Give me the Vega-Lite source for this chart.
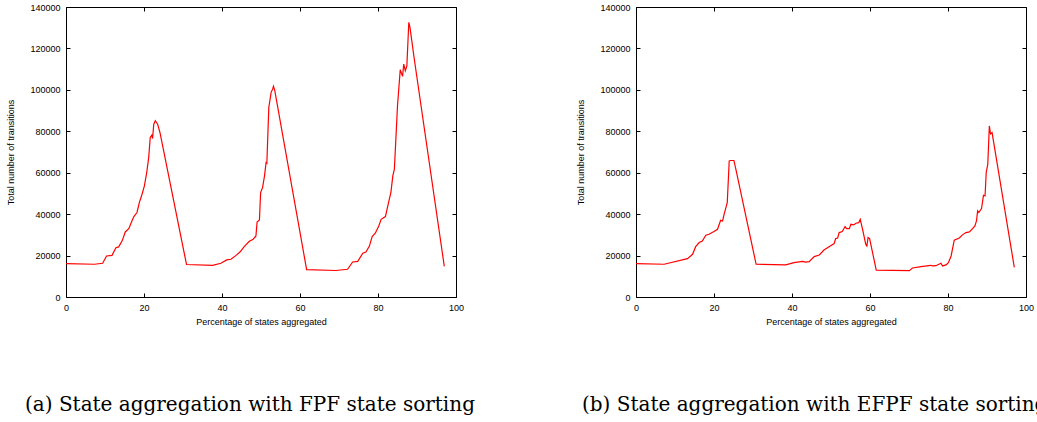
{
  "$schema": "https://vega.github.io/schema/vega-lite/v6.json",
  "padding": {"left": 6, "top": 2, "right": 0, "bottom": 0},
  "background": "white",
  "datasets": {
    "fpf": [
      {"x": 0, "y": 16100}, {"x": 7.3, "y": 15800}, {"x": 9.4, "y": 16300}, {"x": 10.4, "y": 19800},
      {"x": 11.8, "y": 20100}, {"x": 12.8, "y": 23800}, {"x": 13.5, "y": 24200}, {"x": 14.4, "y": 27100},
      {"x": 15.2, "y": 31400}, {"x": 16.1, "y": 33000}, {"x": 16.9, "y": 36700}, {"x": 17.4, "y": 38800},
      {"x": 18.2, "y": 40800}, {"x": 18.8, "y": 45600}, {"x": 19.5, "y": 49600}, {"x": 20.1, "y": 53600},
      {"x": 20.7, "y": 60100}, {"x": 21.2, "y": 67300}, {"x": 21.6, "y": 77000}, {"x": 22.0, "y": 78100},
      {"x": 22.2, "y": 76500}, {"x": 22.5, "y": 83400}, {"x": 22.9, "y": 85100}, {"x": 23.5, "y": 83400},
      {"x": 24.1, "y": 79400}, {"x": 30.9, "y": 15700}, {"x": 37.6, "y": 15300}, {"x": 39.7, "y": 16300},
      {"x": 41.2, "y": 17900}, {"x": 42.3, "y": 18200}, {"x": 43.6, "y": 20100}, {"x": 44.6, "y": 21700},
      {"x": 45.7, "y": 24300}, {"x": 47.0, "y": 26900}, {"x": 48.0, "y": 27900}, {"x": 48.7, "y": 29500},
      {"x": 49.0, "y": 36200}, {"x": 49.6, "y": 37200}, {"x": 49.9, "y": 50400}, {"x": 50.4, "y": 52800},
      {"x": 50.9, "y": 58500}, {"x": 51.3, "y": 64900}, {"x": 51.5, "y": 64600}, {"x": 52.0, "y": 91500},
      {"x": 52.6, "y": 98800}, {"x": 53.0, "y": 100400}, {"x": 53.2, "y": 101700}, {"x": 53.5, "y": 100000},
      {"x": 61.7, "y": 13200}, {"x": 69.2, "y": 12800}, {"x": 72.2, "y": 13400}, {"x": 73.5, "y": 16900},
      {"x": 74.8, "y": 17200}, {"x": 76.1, "y": 21100}, {"x": 76.9, "y": 21700}, {"x": 77.8, "y": 24600},
      {"x": 78.5, "y": 29200}, {"x": 79.3, "y": 30800}, {"x": 80.2, "y": 34300}, {"x": 80.8, "y": 37500},
      {"x": 81.9, "y": 38800}, {"x": 82.7, "y": 45600}, {"x": 83.3, "y": 50400}, {"x": 83.8, "y": 58500},
      {"x": 84.2, "y": 61700}, {"x": 85.0, "y": 92300}, {"x": 85.7, "y": 109700}, {"x": 86.3, "y": 106500},
      {"x": 86.6, "y": 112400}, {"x": 87.0, "y": 109200}, {"x": 87.4, "y": 111600}, {"x": 87.9, "y": 132600},
      {"x": 88.2, "y": 130200}, {"x": 89.3, "y": 114900}, {"x": 97.0, "y": 14800}
    ],
    "efpf": [
      {"x": 0, "y": 16100}, {"x": 7.2, "y": 15800}, {"x": 13.2, "y": 18500}, {"x": 14.5, "y": 20600},
      {"x": 15.3, "y": 24300}, {"x": 16.2, "y": 26300}, {"x": 17.0, "y": 27000}, {"x": 17.9, "y": 29800},
      {"x": 18.7, "y": 30300}, {"x": 20.0, "y": 31600}, {"x": 20.9, "y": 32700}, {"x": 21.7, "y": 37000},
      {"x": 22.2, "y": 36700}, {"x": 22.6, "y": 40000}, {"x": 23.4, "y": 45600}, {"x": 23.9, "y": 65700},
      {"x": 24.3, "y": 65900}, {"x": 25.1, "y": 65900}, {"x": 25.6, "y": 61700}, {"x": 30.8, "y": 15800},
      {"x": 38.4, "y": 15500}, {"x": 40.5, "y": 16600}, {"x": 42.7, "y": 17200}, {"x": 43.5, "y": 16800},
      {"x": 44.4, "y": 17100}, {"x": 45.7, "y": 19500}, {"x": 47.0, "y": 20300}, {"x": 48.2, "y": 22700},
      {"x": 49.5, "y": 24300}, {"x": 50.8, "y": 25800}, {"x": 51.2, "y": 28200}, {"x": 51.7, "y": 28500},
      {"x": 52.1, "y": 31100}, {"x": 52.9, "y": 31600}, {"x": 53.6, "y": 34000}, {"x": 54.0, "y": 33000},
      {"x": 54.7, "y": 33000}, {"x": 55.1, "y": 35100}, {"x": 55.8, "y": 34800}, {"x": 56.4, "y": 35600},
      {"x": 57.1, "y": 35900}, {"x": 57.5, "y": 37500}, {"x": 58.1, "y": 32700}, {"x": 58.9, "y": 25500},
      {"x": 59.2, "y": 24600}, {"x": 59.5, "y": 28700}, {"x": 59.9, "y": 28200}, {"x": 61.6, "y": 13000},
      {"x": 70.1, "y": 12700}, {"x": 70.9, "y": 14000}, {"x": 73.1, "y": 14700}, {"x": 75.6, "y": 15300},
      {"x": 76.0, "y": 15000}, {"x": 76.9, "y": 15100}, {"x": 78.2, "y": 16300}, {"x": 78.6, "y": 15000},
      {"x": 79.5, "y": 15500}, {"x": 80.1, "y": 16600}, {"x": 80.8, "y": 19800}, {"x": 81.6, "y": 27400},
      {"x": 82.9, "y": 28500}, {"x": 83.7, "y": 30000}, {"x": 84.6, "y": 31100}, {"x": 85.5, "y": 31400},
      {"x": 86.3, "y": 33000}, {"x": 86.9, "y": 34300}, {"x": 87.3, "y": 36700}, {"x": 87.6, "y": 41600},
      {"x": 87.9, "y": 40800}, {"x": 88.6, "y": 42700}, {"x": 89.1, "y": 49100}, {"x": 89.5, "y": 48800},
      {"x": 89.8, "y": 60100}, {"x": 90.2, "y": 64100}, {"x": 90.6, "y": 82600}, {"x": 90.9, "y": 78800},
      {"x": 91.3, "y": 79400}, {"x": 97.0, "y": 14300}
    ]
  },
  "config": {
    "view": {"stroke": "black", "strokeWidth": 1},
    "font": "Liberation Sans",
    "axis": {
      "grid": false, "domain": false, "labelFlush": false,
      "labelFont": "Liberation Sans", "labelFontSize": 9, "labelColor": "black",
      "titleFont": "Liberation Sans", "titleFontSize": 9, "titleFontWeight": "normal", "titleColor": "black",
      "tickColor": "black", "tickSize": -4, "tickWidth": 1, "labelPadding": 10, "format": "d"
    },
    "title": {
      "font": "DejaVu Serif", "fontSize": 20, "fontWeight": "normal", "color": "black",
      "orient": "bottom", "anchor": "start", "frame": "group"
    }
  },
  "spacing": 100,
  "hconcat": [
    {
      "width": 390, "height": 290,
      "title": {"text": "(a) State aggregation with FPF state sorting", "dx": -41, "offset": 69},
      "data": {"name": "fpf"},
      "layer": [
        {
          "mark": {"type": "line", "color": "#ff0000", "strokeWidth": 1.2},
          "encoding": {
            "x": {"field": "x", "type": "quantitative", "scale": {"domain": [0, 100], "nice": false},
                  "axis": {"orient": "bottom", "values": [0, 20, 40, 60, 80, 100], "title": "Percentage of states aggregated", "titlePadding": 5}},
            "y": {"field": "y", "type": "quantitative", "scale": {"domain": [0, 140000], "nice": false},
                  "axis": {"orient": "left", "values": [0, 20000, 40000, 60000, 80000, 100000, 120000, 140000], "title": "Total number of transitions", "titlePadding": 14}}
          }
        },
        {
          "mark": {"type": "line", "opacity": 0},
          "encoding": {
            "x": {"field": "x", "type": "quantitative", "axis": {"orient": "top", "values": [0, 20, 40, 60, 80, 100], "labels": false, "title": null}},
            "y": {"field": "y", "type": "quantitative", "axis": {"orient": "right", "values": [0, 20000, 40000, 60000, 80000, 100000, 120000, 140000], "labels": false, "title": null}}
          }
        }
      ],
      "resolve": {"axis": {"x": "independent", "y": "independent"}}
    },
    {
      "width": 390, "height": 290,
      "title": {"text": "(b) State aggregation with EFPF state sorting", "dx": -54, "offset": 69},
      "data": {"name": "efpf"},
      "layer": [
        {
          "mark": {"type": "line", "color": "#ff0000", "strokeWidth": 1.2},
          "encoding": {
            "x": {"field": "x", "type": "quantitative", "scale": {"domain": [0, 100], "nice": false},
                  "axis": {"orient": "bottom", "values": [0, 20, 40, 60, 80, 100], "title": "Percentage of states aggregated", "titlePadding": 5}},
            "y": {"field": "y", "type": "quantitative", "scale": {"domain": [0, 140000], "nice": false},
                  "axis": {"orient": "left", "values": [0, 20000, 40000, 60000, 80000, 100000, 120000, 140000], "title": "Total number of transitions", "titlePadding": 14}}
          }
        },
        {
          "mark": {"type": "line", "opacity": 0},
          "encoding": {
            "x": {"field": "x", "type": "quantitative", "axis": {"orient": "top", "values": [0, 20, 40, 60, 80, 100], "labels": false, "title": null}},
            "y": {"field": "y", "type": "quantitative", "axis": {"orient": "right", "values": [0, 20000, 40000, 60000, 80000, 100000, 120000, 140000], "labels": false, "title": null}}
          }
        }
      ],
      "resolve": {"axis": {"x": "independent", "y": "independent"}}
    }
  ]
}
